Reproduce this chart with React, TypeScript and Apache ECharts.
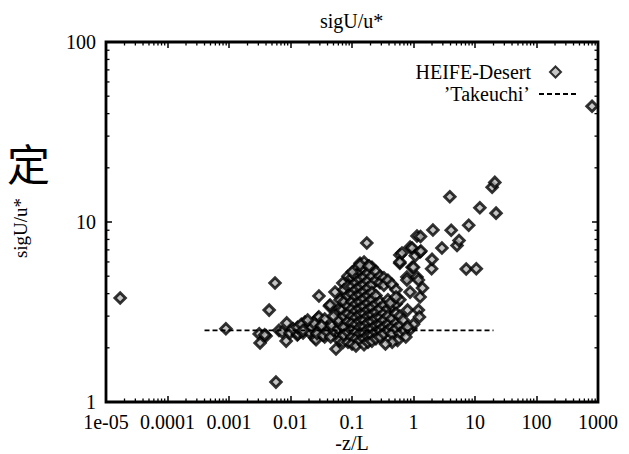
import React, { useEffect, useRef } from 'react';
import * as echarts from 'echarts';

const xTickLabels = ['1e-05', '0.0001', '0.001', '0.01', '0.1', '1', '10', '100', '1000'];
const yTickLabels = ['1', '10', '100'];
const minorMultipliers = [2, 3, 4, 5, 6, 7, 8, 9];
const xDecades = [-5, -4, -3, -2, -1, 0, 1, 2];
const yDecades = [0, 1];

const heifeLow: [number, number][] = [
  [1.7e-5, 3.78], [0.00089, 2.55], [0.0056, 4.58], [0.0045, 3.24], [0.0031, 2.39], [0.004, 2.33],
  [0.0032, 2.13], [0.0038, 2.36], [0.0058, 1.29], [0.0065, 2.5], [0.0073, 2.45], [0.0087, 2.75],
  [0.0085, 2.18], [0.0098, 2.42], [0.0129, 2.36], [0.0132, 2.39], [0.0143, 2.58], [0.016, 2.42],
  [0.0172, 2.78], [0.0208, 2.68], [0.025, 2.27], [0.026, 2.22], [0.028, 2.93], [0.029, 3.88],
  [0.029, 2.97], [0.036, 2.89], [0.036, 2.3], [0.039, 2.58], [0.043, 3.41], [0.053, 4.08],
  [0.055, 1.97], [0.057, 3.12], [0.057, 2.42], [0.064, 3.33], [0.069, 3.24], [0.069, 2.27],
  [0.071, 4.58], [0.071, 3.79], [0.083, 2.27], [0.086, 2.58],
  [0.011, 2.55], [0.013, 2.6], [0.015, 2.7], [0.018, 2.55], [0.02, 2.45], [0.022, 2.6],
  [0.024, 2.75], [0.019, 2.85], [0.016, 2.5], [0.03, 2.5], [0.032, 2.65], [0.027, 2.4],
  [0.034, 2.35], [0.04, 2.45], [0.045, 2.3], [0.05, 2.5], [0.047, 2.65], [0.06, 2.55],
  [0.065, 2.7], [0.075, 2.4], [0.08, 2.5], [0.062, 2.2], [0.072, 2.15], [0.078, 2.9],
  [0.09, 2.75], [0.085, 3.0], [0.06, 2.85], [0.05, 3.0], [0.044, 3.46], [0.064, 3.69],
];

const heifeCore: [number, number][] = [
  [0.074, 4.2], [0.074, 3.6], [0.074, 3.0], [0.074, 2.6], [0.074, 2.35],
  [0.086, 5.0], [0.086, 4.4], [0.086, 3.9], [0.086, 3.4], [0.086, 3.1], [0.086, 2.8], [0.086, 2.45], [0.086, 2.15],
  [0.1, 4.9], [0.1, 4.4], [0.1, 4.0], [0.1, 3.6], [0.1, 3.3], [0.1, 3.0], [0.1, 2.75], [0.1, 2.5], [0.1, 2.3], [0.1, 2.1],
  [0.116, 5.5], [0.116, 5.0], [0.116, 4.6], [0.116, 4.2], [0.116, 3.85], [0.116, 3.5], [0.116, 3.2], [0.116, 2.95],
  [0.116, 2.7], [0.116, 2.45], [0.116, 2.25], [0.116, 2.05],
  [0.135, 5.9], [0.135, 5.3], [0.135, 4.8], [0.135, 4.35], [0.135, 3.95], [0.135, 3.6], [0.135, 3.3], [0.135, 3.05],
  [0.135, 2.8], [0.135, 2.6], [0.135, 2.4], [0.135, 2.2],
  [0.157, 6.0], [0.157, 5.45], [0.157, 4.95], [0.157, 4.5], [0.157, 4.1], [0.157, 3.75], [0.157, 3.4], [0.157, 3.1],
  [0.157, 2.85], [0.157, 2.62], [0.157, 2.42], [0.157, 2.25], [0.157, 2.08],
  [0.182, 5.7], [0.182, 5.2], [0.182, 4.7], [0.182, 4.3], [0.182, 3.9], [0.182, 3.55], [0.182, 3.25], [0.182, 3.0],
  [0.182, 2.75], [0.182, 2.52], [0.182, 2.33], [0.182, 2.15],
  [0.211, 5.6], [0.211, 5.0], [0.211, 4.5], [0.211, 4.05], [0.211, 3.7], [0.211, 3.35], [0.211, 3.05], [0.211, 2.8],
  [0.211, 2.55], [0.211, 2.35], [0.211, 2.18],
  [0.245, 5.3], [0.245, 4.75], [0.245, 3.9], [0.245, 3.5], [0.245, 3.15], [0.245, 2.9], [0.245, 2.65], [0.245, 2.45], [0.245, 2.25],
  [0.285, 5.0], [0.285, 4.6], [0.285, 3.6], [0.285, 3.3], [0.285, 2.95], [0.285, 2.7], [0.285, 2.5], [0.285, 2.3],
  [0.33, 4.9], [0.33, 4.45], [0.33, 3.45], [0.33, 3.1], [0.33, 2.85], [0.33, 2.6], [0.33, 2.4],
  [0.384, 4.75], [0.384, 3.7], [0.384, 3.3], [0.384, 3.0], [0.384, 2.7], [0.384, 2.5],
  [0.446, 4.5], [0.446, 3.4], [0.446, 2.9], [0.446, 2.6], [0.446, 2.4],
  [0.52, 4.2], [0.52, 3.5], [0.52, 3.1], [0.52, 2.75], [0.52, 2.55],
  [0.6, 3.7], [0.6, 3.0], [0.6, 2.65], [0.6, 2.4],
  [0.7, 2.5], [0.75, 2.3], [0.9, 2.55], [0.55, 2.2], [0.45, 2.15], [0.35, 2.1], [1.0, 2.7],
];

const heifeHigh: [number, number][] = [
  [0.101, 5.28], [0.135, 5.77], [0.174, 7.64], [0.19, 5.7], [0.42, 3.55], [0.52, 3.83],
  [0.6, 6.56], [0.6, 5.9], [0.6, 6.0], [0.65, 6.73], [0.78, 4.95], [0.78, 4.76], [0.8, 3.24],
  [0.68, 2.85], [0.8, 2.61], [0.88, 4.08], [0.88, 7.25], [0.95, 7.17], [0.95, 5.6], [1.0, 5.6],
  [1.07, 6.5], [1.14, 8.36], [1.14, 4.95], [1.2, 4.76], [1.2, 3.24], [1.25, 2.97], [1.28, 6.81],
  [1.28, 3.83], [1.3, 8.3], [1.32, 6.9], [1.4, 4.3], [1.97, 5.5], [2.0, 6.2], [2.07, 9.03],
  [2.9, 7.17], [3.9, 13.8], [4.1, 9.0], [5.1, 7.4], [5.5, 7.9], [7.2, 5.48], [7.9, 9.6],
  [10.5, 5.5], [12, 12], [19, 15.6], [21, 16.6], [22, 11.2], [800, 44],
];

const takeuchiX = [0.0004, 20];
const takeuchiY = [2.5, 2.5];

const FONT = '"Liberation Serif", "Times New Roman", serif';

export default function App() {
  const ref = useRef<HTMLDivElement>(null);
  useEffect(() => {
    document.body.style.margin = '0';
    if (!ref.current) return;
    const chart = echarts.init(ref.current, undefined, { renderer: 'svg' });

    const minorX: [number, number][] = [];
    xDecades.forEach((e) => minorMultipliers.forEach((m) => minorX.push([m * Math.pow(10, e), 1])));
    const minorY: [number, number][] = [];
    yDecades.forEach((e) => minorMultipliers.forEach((m) => minorY.push([1e-5, m * Math.pow(10, e)])));

    const tickStyle = { stroke: '#000', lineWidth: 1.3 };
    const desert = [...heifeLow, ...heifeCore, ...heifeHigh];

    const axisCommon = {
      type: 'log' as const,
      logBase: 10,
      interval: 1,
      axisLine: { show: false },
      splitLine: { show: false },
      axisTick: { show: true, inside: true, length: 6, lineStyle: { color: '#000', width: 1.5 } },
    };
    const legendText = { fontFamily: FONT, fontSize: 20, color: '#000' };

    chart.setOption({
      animation: false,
      backgroundColor: '#fff',
      title: {
        text: 'sigU/u*',
        left: 320,
        top: 11,
        padding: 0,
        textStyle: { fontFamily: FONT, fontSize: 20, fontWeight: 'normal', color: '#000' },
      },
      legend: [
        {
          orient: 'vertical',
          right: 62,
          top: 57,
          align: 'right',
          itemWidth: 11,
          itemHeight: 11,
          textStyle: { ...legendText, padding: [0, 14, 0, 0] },
          data: [{ name: 'HEIFE-Desert', icon: 'diamond' }],
        },
        {
          orient: 'vertical',
          right: 45,
          top: 79,
          align: 'right',
          itemWidth: 39,
          itemHeight: 10,
          textStyle: { ...legendText, padding: [0, 4, 0, 0] },
          data: [{ name: '’Takeuchi’' }],
        },
      ],
      grid: {
        left: 106,
        right: 31,
        top: 42,
        bottom: 52,
        outerBoundsMode: 'none',
        show: true,
        borderColor: '#000',
        borderWidth: 2.8,
        backgroundColor: 'transparent',
      },
      xAxis: [
        {
          ...axisCommon,
          min: 1e-5,
          max: 1000,
          position: 'bottom',
          name: '-z/L',
          nameLocation: 'middle',
          nameGap: 31,
          nameMoveOverlap: false,
          nameTextStyle: { fontFamily: FONT, fontSize: 20, lineHeight: 20, color: '#000' },
          axisLabel: {
            margin: 10,
            fontFamily: FONT,
            fontSize: 20,
            lineHeight: 20,
            color: '#000',
            formatter: (v: number) => xTickLabels[Math.round(Math.log10(v)) + 5] ?? '',
          },
        },
        { ...axisCommon, min: 1e-5, max: 1000, position: 'top', axisLabel: { show: false } },
      ],
      yAxis: [
        {
          ...axisCommon,
          min: 1,
          max: 100,
          position: 'left',
          name: 'sigU/u*',
          nameLocation: 'middle',
          nameRotate: 90,
          nameGap: 76,
          nameTextStyle: { fontFamily: FONT, fontSize: 19, color: '#000', padding: [0, 12, 0, 0] },
          axisLabel: {
            margin: 10,
            fontFamily: FONT,
            fontSize: 20,
            lineHeight: 18,
            color: '#000',
            formatter: (v: number) => yTickLabels[Math.round(Math.log10(v))] ?? '',
          },
        },
        { ...axisCommon, min: 1, max: 100, position: 'right', axisLabel: { show: false } },
      ],
      graphic: [
        {
          type: 'text',
          left: 7,
          top: 140,
          style: { text: '定', font: '43px "Noto Sans CJK SC"', fill: '#000' },
        },
      ],
      series: [
        {
          name: 'HEIFE-Desert',
          type: 'scatter',
          symbol: 'diamond',
          symbolSize: 10.5,
          itemStyle: { color: '#b8b8b8', borderColor: '#000', borderWidth: 2.9 },
          data: desert,
          z: 3,
        },
        {
          name: '’Takeuchi’',
          type: 'line',
          symbol: 'none',
          itemStyle: { color: 'rgba(0,0,0,0)', borderWidth: 0 },
          lineStyle: { color: '#000', width: 1.6, type: [5, 3] },
          data: takeuchiX.map((x, i) => [x, takeuchiY[i]]),
          z: 4,
        },
        {
          type: 'custom',
          silent: true,
          data: minorX,
          renderItem: (_p: any, api: any) => {
            const v = api.value(0);
            const b = api.coord([v, 1]);
            const t = api.coord([v, 100]);
            return {
              type: 'group',
              children: [
                { type: 'line', shape: { x1: b[0], y1: b[1], x2: b[0], y2: b[1] - 3.5 }, style: tickStyle },
                { type: 'line', shape: { x1: t[0], y1: t[1], x2: t[0], y2: t[1] + 3.5 }, style: tickStyle },
              ],
            };
          },
          z: 2,
        },
        {
          type: 'custom',
          silent: true,
          data: minorY,
          renderItem: (_p: any, api: any) => {
            const v = api.value(1);
            const l = api.coord([1e-5, v]);
            const r = api.coord([1000, v]);
            return {
              type: 'group',
              children: [
                { type: 'line', shape: { x1: l[0], y1: l[1], x2: l[0] + 3.5, y2: l[1] }, style: tickStyle },
                { type: 'line', shape: { x1: r[0], y1: r[1], x2: r[0] - 3.5, y2: r[1] }, style: tickStyle },
              ],
            };
          },
          z: 2,
        },
      ],
    });
    return () => chart.dispose();
  }, []);
  return <div ref={ref} style={{ width: 629, height: 454 }} />;
}
